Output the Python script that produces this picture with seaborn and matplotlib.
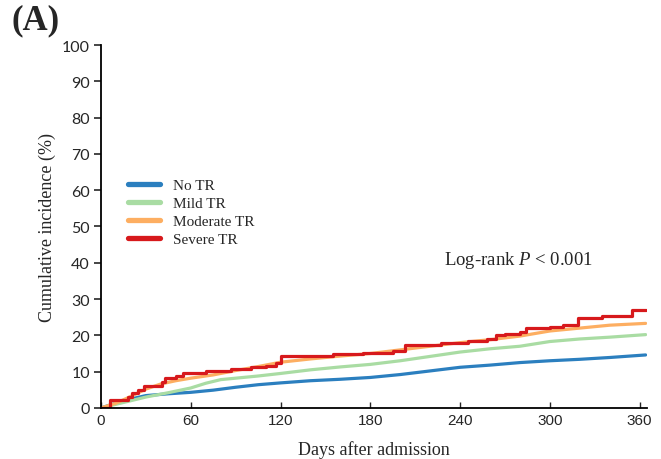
import pandas as pd
import numpy as np
import seaborn as sns
import matplotlib.pyplot as plt

# Values (day, cumulative incidence %)
groups = ["No TR", "Mild TR", "Moderate TR", "Severe TR"]
colors = ["#2b7fbf", "#a9dca3", "#fdae61", "#d7191c"]

no_tr_days = [0, 15, 30, 45, 60, 75, 90, 105, 120, 140, 160, 180, 200, 220, 240, 260, 280, 300, 320, 340, 364]
no_tr_vals = [0, 2.0, 3.4, 3.9, 4.3, 4.9, 5.7, 6.4, 6.9, 7.5, 7.9, 8.4, 9.2, 10.2, 11.2, 11.8, 12.5, 13.0, 13.4, 13.9, 14.6]

mild_days = [0, 15, 30, 45, 60, 70, 80, 90, 105, 120, 140, 160, 180, 200, 220, 240, 260, 280, 300, 320, 340, 364]
mild_vals = [0, 1.5, 3.0, 4.2, 5.5, 6.8, 7.8, 8.2, 8.8, 9.5, 10.5, 11.3, 12.0, 13.0, 14.2, 15.4, 16.3, 17.0, 18.3, 19.0, 19.5, 20.2]

mod_days = [0, 10, 20, 30, 40, 50, 60, 75, 90, 105, 120, 140, 160, 180, 200, 220, 240, 260, 280, 300, 320, 340, 364]
mod_vals = [0, 1.3, 3.2, 5.2, 6.6, 7.5, 8.2, 9.1, 10.3, 11.4, 12.6, 13.5, 14.3, 15.0, 16.0, 17.0, 18.0, 18.8, 19.8, 21.2, 22.0, 22.8, 23.3]

sev_days = [0, 6, 15, 18, 21, 25, 29, 39, 41, 43, 50, 55, 65, 70, 84, 87, 100, 110, 117, 120,
            150, 155, 175, 195, 203, 227, 245, 258, 264, 270, 280, 284, 300, 309, 319, 335, 355, 364]
sev_vals = [0, 2.2, 2.2, 3.0, 4.0, 5.0, 6.1, 6.1, 7.2, 8.3, 8.7, 9.5, 9.5, 10.2, 10.2, 10.8, 11.2, 11.6, 12.5, 14.3,
            14.3, 14.8, 15.2, 15.6, 17.4, 18.0, 18.4, 18.9, 20.2, 20.5, 21.0, 22.0, 22.3, 22.9, 24.8, 25.2, 27.0, 27.0]

series = {
    "No TR": (no_tr_days, no_tr_vals, "default"),
    "Mild TR": (mild_days, mild_vals, "default"),
    "Moderate TR": (mod_days, mod_vals, "default"),
    "Severe TR": (sev_days, sev_vals, "steps-post"),
}

sns.set_style("ticks")
serif = "Liberation Serif"
plt.rcParams["mathtext.fontset"] = "custom"
plt.rcParams["mathtext.it"] = "Liberation Serif:italic"
plt.rcParams["mathtext.rm"] = "Liberation Serif"

fig, ax = plt.subplots(figsize=(6.61, 4.6), dpi=100)
fig.subplots_adjust(left=0.1528, right=0.979, bottom=0.111, top=0.9)

for name, col in zip(groups, colors):
    d, v, ds = series[name]
    df = pd.DataFrame({"day": d, "inc": v})
    sns.lineplot(data=df, x="day", y="inc", ax=ax, color=col, linewidth=2.3,
                 drawstyle=ds, label=name, estimator=None, sort=False)

ax.set_xlim(0, 365)
ax.set_ylim(0, 100)
ax.set_xticks(range(0, 361, 60))
ax.set_yticks(range(0, 101, 10))
sns.despine(ax=ax)
for sp in ["left", "bottom"]:
    ax.spines[sp].set_linewidth(1.3)
    ax.spines[sp].set_color("black")

ax.tick_params(axis="y", direction="out", length=5, width=1.2, labelsize=11.5, pad=3)
ax.tick_params(axis="x", direction="in", length=4, width=1.0, labelsize=11, pad=4)
for lab in ax.get_yticklabels():
    lab.set_fontfamily("Lato")
for lab in ax.get_xticklabels():
    lab.set_fontfamily("Liberation Sans")

ax.set_xlabel("Days after admission", fontfamily=serif, fontsize=13, labelpad=9)
ax.set_ylabel("Cumulative incidence (%)", fontfamily=serif, fontsize=13, labelpad=4)

leg = ax.legend(loc="upper left", bbox_to_anchor=(0.025, 0.67), frameon=False,
                prop={"family": serif, "size": 11}, handlelength=2.1, labelspacing=0.28,
                handletextpad=0.8)
for h in leg.get_lines():
    h.set_linewidth(3.8)

ax.text(0.765, 0.41, "Log-rank $P$ < 0.001", transform=ax.transAxes,
        ha="center", va="center", fontfamily=serif, fontsize=13.5)
ax.figure.text(0.018, 0.955, "(A)", fontfamily=serif, fontsize=25, fontweight="bold",
               ha="left", va="center")

fig.savefig("out.png", dpi=100)
